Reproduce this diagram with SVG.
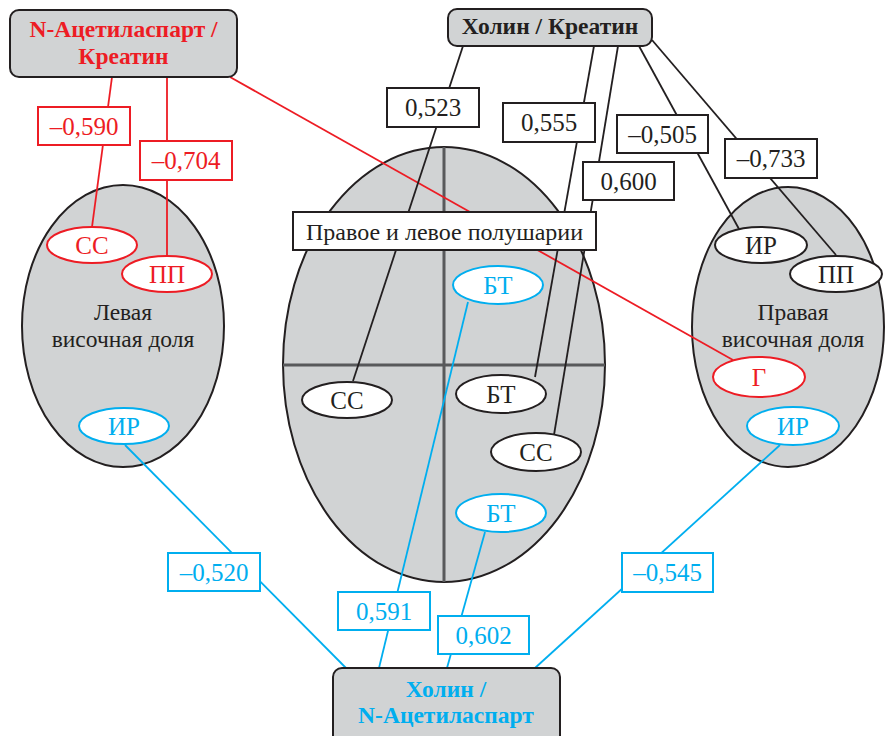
<svg xmlns="http://www.w3.org/2000/svg" width="886" height="736" viewBox="0 0 886 736">
<style>
.region{fill:#d1d3d4;stroke:#231f20;stroke-width:2}
.cross{stroke:#58595b;stroke-width:3;fill:none}
.title{fill:#d1d3d4;stroke:#231f20;stroke-width:2}
.tt{font-family:"Liberation Serif","DejaVu Serif",serif;font-weight:bold;font-size:23.5px;text-anchor:middle}
.lbl{font-family:"Liberation Serif","DejaVu Serif",serif;font-size:25px;text-anchor:middle}
.sm{font-family:"Liberation Serif","DejaVu Serif",serif;font-size:25px;text-anchor:middle}
.txt{font-family:"Liberation Serif","DejaVu Serif",serif;font-size:23.5px;text-anchor:middle;fill:#231f20}
.node{fill:#fff;stroke-width:2}
.k{stroke:#231f20;fill:#231f20}
.r{stroke:#ed1c24;fill:#ed1c24}
.c{stroke:#00aeef;fill:#00aeef}
.ln{stroke-width:1.8;fill:none}
.box{fill:#fff;stroke-width:2}
text{stroke:none}
</style>

<g id="regions">
  <g id="left-lobe">
    <ellipse class="region" cx="123" cy="326" rx="101" ry="141"/>
    <text class="txt" x="123" y="320">Левая</text>
    <text class="txt" x="123" y="347">височная доля</text>
  </g>
  <g id="hemispheres">
    <ellipse class="region" cx="444" cy="364.5" rx="161" ry="217.5"/>
    <line class="cross" x1="444" y1="147" x2="444" y2="582"/>
    <line class="cross" x1="283" y1="365" x2="605" y2="365"/>
  </g>
  <g id="right-lobe">
    <ellipse class="region" cx="788" cy="327" rx="96" ry="140"/>
    <text class="txt" x="793" y="320">Правая</text>
    <text class="txt" x="793" y="347">височная доля</text>
  </g>
</g>

<g id="connectors">
  <line class="ln r" x1="112" y1="77" x2="92" y2="227"/>
  <line class="ln r" x1="167" y1="77" x2="167" y2="256"/>
  <line class="ln r" x1="230" y1="77" x2="733" y2="360"/>
  <line class="ln k" x1="463" y1="46" x2="353" y2="381"/>
  <line class="ln k" x1="594" y1="46" x2="535" y2="377"/>
  <line class="ln k" x1="618" y1="46" x2="554" y2="435"/>
  <line class="ln k" x1="639" y1="46" x2="739" y2="229"/>
  <line class="ln k" x1="652" y1="40" x2="836" y2="255"/>
  <line class="ln c" x1="125" y1="445" x2="346" y2="668"/>
  <line class="ln c" x1="468" y1="302" x2="379" y2="668"/>
  <line class="ln c" x1="485" y1="532" x2="447" y2="668"/>
  <line class="ln c" x1="780" y1="445" x2="535" y2="668"/>
</g>

<g id="hemispheres-label">
  <rect class="box k" x="293" y="212" width="303" height="38" style="fill:#fff"/>
  <text class="lbl" x="444.5" y="240" style="fill:#231f20;font-size:24px">Правое и левое полушарии</text>
</g>

<g id="edge-labels">
  <g class="r"><rect class="box" style="fill:#fff" x="38" y="107" width="92" height="38"/><text class="lbl" x="84" y="134.5">–0,590</text></g>
  <g class="r"><rect class="box" style="fill:#fff" x="140" y="141" width="92" height="39"/><text class="lbl" x="186" y="169">–0,704</text></g>
  <g class="k"><rect class="box" style="fill:#fff" x="387" y="88" width="92" height="39"/><text class="lbl" x="433" y="116">0,523</text></g>
  <g class="k"><rect class="box" style="fill:#fff" x="503" y="103" width="92" height="39"/><text class="lbl" x="549" y="131">0,555</text></g>
  <g class="k"><rect class="box" style="fill:#fff" x="617" y="115" width="91" height="38"/><text class="lbl" x="662.5" y="142.5">–0,505</text></g>
  <g class="k"><rect class="box" style="fill:#fff" x="725" y="139" width="92" height="39"/><text class="lbl" x="771" y="167">–0,733</text></g>
  <g class="k"><rect class="box" style="fill:#fff" x="583" y="162" width="91" height="38"/><text class="lbl" x="628.5" y="189.5">0,600</text></g>
  <g class="c"><rect class="box" style="fill:#fff" x="168" y="553" width="92" height="38"/><text class="lbl" x="214" y="580.5">–0,520</text></g>
  <g class="c"><rect class="box" style="fill:#fff" x="338" y="592" width="92" height="38"/><text class="lbl" x="384" y="619.5">0,591</text></g>
  <g class="c"><rect class="box" style="fill:#fff" x="438" y="616" width="91" height="38"/><text class="lbl" x="483.5" y="643.5">0,602</text></g>
  <g class="c"><rect class="box" style="fill:#fff" x="622" y="553" width="91" height="39"/><text class="lbl" x="667.5" y="581">–0,545</text></g>
</g>

<g id="left-ss" class="r"><ellipse class="node" style="fill:#fff" cx="92" cy="245" rx="45" ry="18"/><text class="sm" x="92" y="253.5">СС</text></g>
<g id="left-pp" class="r"><ellipse class="node" style="fill:#fff" cx="167" cy="274" rx="45" ry="18"/><text class="sm" x="167" y="282.5">ПП</text></g>
<g id="left-ir" class="c"><ellipse class="node" style="fill:#fff" cx="124" cy="426" rx="45" ry="18"/><text class="sm" x="124" y="434.5">ИР</text></g>

<g id="center-bt-top" class="c"><ellipse class="node" style="fill:#fff" cx="498" cy="285" rx="45" ry="19"/><text class="sm" x="498" y="293.5">БТ</text></g>
<g id="center-ss-left" class="k"><ellipse class="node" style="fill:#fff" cx="347" cy="400" rx="45" ry="18"/><text class="sm" x="347" y="408.5">СС</text></g>
<g id="center-bt" class="k"><ellipse class="node" style="fill:#fff" cx="501" cy="394" rx="45" ry="19"/><text class="sm" x="501" y="402.5">БТ</text></g>
<g id="center-ss-right" class="k"><ellipse class="node" style="fill:#fff" cx="536" cy="452" rx="45" ry="19"/><text class="sm" x="536" y="460.5">СС</text></g>
<g id="center-bt-bottom" class="c"><ellipse class="node" style="fill:#fff" cx="501" cy="513" rx="45" ry="19"/><text class="sm" x="501" y="521.5">БТ</text></g>

<g id="right-ir" class="k"><ellipse class="node" style="fill:#fff" cx="761" cy="245" rx="46" ry="18"/><text class="sm" x="761" y="253.5">ИР</text></g>
<g id="right-pp" class="k"><ellipse class="node" style="fill:#fff" cx="836" cy="274" rx="46" ry="18"/><text class="sm" x="836" y="282.5">ПП</text></g>
<g id="right-g" class="r"><ellipse class="node" style="fill:#fff" cx="759" cy="377" rx="46" ry="20"/><text class="sm" x="759" y="385.5">Г</text></g>
<g id="right-ir-cyan" class="c"><ellipse class="node" style="fill:#fff" cx="793" cy="426" rx="46" ry="19"/><text class="sm" x="793" y="434.5">ИР</text></g>

<g id="naa-cr">
  <rect class="title" x="10" y="10" width="227" height="67" rx="9"/>
  <text class="tt" x="123.5" y="37" fill="#ed1c24">N-Ацетиласпарт /</text>
  <text class="tt" x="123.5" y="64" fill="#ed1c24">Креатин</text>
</g>
<g id="cho-cr">
  <rect class="title" x="448" y="9" width="204" height="37" rx="9"/>
  <text class="tt" x="550" y="34" fill="#231f20">Холин / Креатин</text>
</g>
<g id="cho-naa">
  <rect class="title" x="333" y="668" width="227" height="80" rx="9"/>
  <text class="tt" x="446" y="697" fill="#00aeef">Холин /</text>
  <text class="tt" x="446" y="723" fill="#00aeef">N-Ацетиласпарт</text>
</g>
</svg>
